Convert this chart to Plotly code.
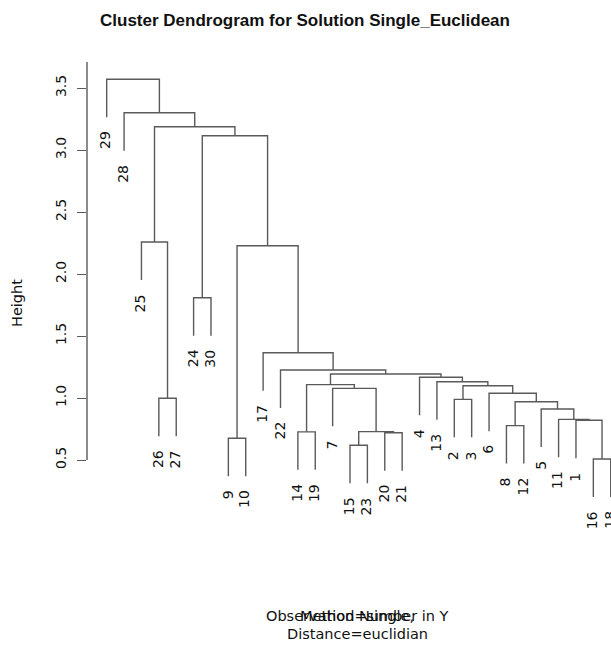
import plotly.graph_objects as go

# Observation labels (leaves) of the single-linkage tree
labels = [str(i) for i in range(1, 31)]

# hclust-style merge table: negative = observation number, positive = earlier merge step
merge_left = [-16, -15, -9, -20, -14, 2, -8, -1, -11, -5, 7, -2, -26, -6, -7,
              12, 5, -13, -4, 17, -22, -17, -24, 3, -25, 23, 25, -28, -29]
merge_right = [-18, -23, -10, -21, -19, 4, -12, 1, 8, 9, 10, -3, -27, 11, 6,
               14, 15, 16, 18, 19, 20, 21, -30, 22, 13, 24, 26, 27, 28]
merge_height = [0.508, 0.619, 0.675, 0.720, 0.727, 0.729, 0.777, 0.820, 0.828,
                0.911, 0.970, 0.989, 0.998, 1.038, 1.078, 1.099, 1.108, 1.131,
                1.167, 1.194, 1.226, 1.365, 1.809, 2.228, 2.258, 3.115, 3.188,
                3.300, 3.570]

y_ticks = [0.5, 1.0, 1.5, 2.0, 2.5, 3.0, 3.5]
y_tick_text = ["0.5", "1.0", "1.5", "2.0", "2.5", "3.0", "3.5"]

title_text = "Cluster Dendrogram for Solution Single_Euclidean"
xlab_text = "Observation Number in Y"
sub_text = ["Method=single,", "Distance=euclidian"]
ylab_text = "Height"

# ---- figure geometry ----
W, H = 611, 646
M_L, M_R, M_T, M_B = 87, 0, 55, 86
PX_PER_LEAF = 17.38
PX_PER_UNIT = 124.0
FIRST_LEAF_PX = 106.7
REF_H, REF_PX = 0.5, 460.0

plot_w = W - M_L - M_R
plot_h = H - M_T - M_B
x0 = 1 - (FIRST_LEAF_PX - M_L) / PX_PER_LEAF
x1 = x0 + plot_w / PX_PER_LEAF
y_bottom = REF_H + (REF_PX - (H - M_B)) / PX_PER_UNIT
y_top = REF_H + (REF_PX - M_T) / PX_PER_UNIT


def paper_x(px):
    return (px - M_L) / plot_w


def paper_y(py):
    return ((H - M_B) - py) / plot_h


# ---- dendrogram layout ----
n_merge = len(merge_height)
order = []


def walk(node):
    if node < 0:
        order.append(-node)
    else:
        walk(merge_left[node - 1])
        walk(merge_right[node - 1])


walk(n_merge)
leaf_pos = {obs: i + 1 for i, obs in enumerate(order)}
hang = 0.1 * (max(merge_height) - min(merge_height))

node_x = {}


def x_of(node):
    return leaf_pos[-node] if node < 0 else node_x[node]


seg_x, seg_y = [], []
leaf_ends = {}
for k in range(1, n_merge + 1):
    a, b = merge_left[k - 1], merge_right[k - 1]
    h = merge_height[k - 1]
    node_x[k] = (x_of(a) + x_of(b)) / 2
    bottoms = []
    for c in (a, b):
        if c < 0:
            bot = h - hang
            leaf_ends[-c] = bot
        else:
            bot = merge_height[c - 1]
        bottoms.append(bot)
    seg_x += [x_of(a), x_of(a), x_of(b), x_of(b), None]
    seg_y += [bottoms[0], h, h, bottoms[1], None]

LINE = "#5a5a5a"
TEXT = "#111111"
FONT = "DejaVu Sans"

fig = go.Figure()
fig.add_trace(go.Scatter(x=seg_x, y=seg_y, mode="lines",
                         line=dict(color=LINE, width=1.4),
                         hoverinfo="skip", showlegend=False))

annotations = []
for obs in order:
    annotations.append(dict(
        x=leaf_pos[obs], y=leaf_ends[obs], xref="x", yref="y",
        text=labels[obs - 1], textangle=-90, showarrow=False,
        xanchor="center", yanchor="top", yshift=-12, xshift=-1,
        font=dict(family=FONT, size=14, color=TEXT)))

annotations.append(dict(
    x=paper_x(305), y=paper_y(21), xref="paper", yref="paper",
    text="<b>" + title_text + "</b>", showarrow=False,
    xanchor="center", yanchor="middle",
    font=dict(family="Liberation Sans", size=17, color=TEXT)))

annotations.append(dict(
    x=paper_x(17), y=paper_y(303), xref="paper", yref="paper",
    text=ylab_text, textangle=-90, showarrow=False,
    xanchor="center", yanchor="middle",
    font=dict(family=FONT, size=14.5, color=TEXT)))

for txt, py in ((xlab_text, 616), (sub_text[0], 616), (sub_text[1], 634)):
    annotations.append(dict(
        x=paper_x(357), y=paper_y(py), xref="paper", yref="paper",
        text=txt, showarrow=False, xanchor="center", yanchor="middle",
        font=dict(family=FONT, size=14.5, color=TEXT)))

fig.update_layout(
    width=W, height=H,
    margin=dict(l=M_L, r=M_R, t=M_T, b=M_B, pad=0),
    paper_bgcolor="white", plot_bgcolor="white",
    xaxis=dict(range=[x0, x1], visible=False, fixedrange=True),
    yaxis=dict(range=[y_bottom, y_top], tickvals=y_ticks, ticktext=y_tick_text,
               tickangle=-90, ticks="outside", ticklen=9, tickwidth=1.3,
               tickcolor=LINE, showline=False, showgrid=False, zeroline=False,
               ticklabelstandoff=5,
               tickfont=dict(family=FONT, size=14, color=TEXT)),
    shapes=[dict(type="line", xref="paper", yref="y", x0=0, x1=0,
                 y0=0.5, y1=3.71, line=dict(color=LINE, width=1.4))],
    annotations=annotations,
    showlegend=False,
)

fig.write_html("out.html")
